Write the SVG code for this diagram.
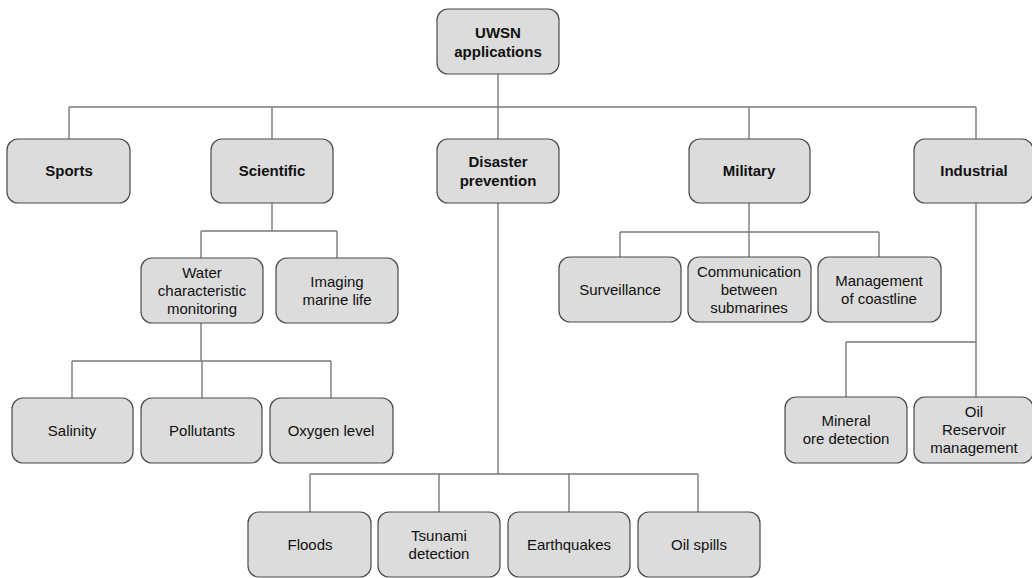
<svg xmlns="http://www.w3.org/2000/svg" width="1032" height="578" viewBox="0 0 1032 578">
<style>
.b{fill:#dcdcdc;stroke:#4a4a4a;stroke-width:1.2}
.t{font-family:"Liberation Sans",Arial,sans-serif;font-size:15px;fill:#111;text-anchor:middle}
.h{font-weight:bold}
.c{fill:none;stroke:#7a7a7a;stroke-width:1.4}
</style>
<rect width="1032" height="578" fill="#fff"/>
<g id="connectors">
<path class="c" d="M498 74V107M69 107H976M69 107V139M272 107V139M498 107V139M749 107V139M976 107V139"/>
<path class="c" d="M272 203V231M201 231H337M201 231V258M337 231V258"/>
<path class="c" d="M201 323V361M72 361H331M72 361V398M202 361V398M331 361V398"/>
<path class="c" d="M749 203V232M620 232H879M620 232V257M749 232V257M879 232V257"/>
<path class="c" d="M976 203V397M846 342H976M846 342V397"/>
<path class="c" d="M498 203V474M310 474H698M310 474V512M439 474V512M569 474V512M698 474V512"/>
</g>
<g id="n-root"><rect class="b" x="437" y="9" width="122" height="65" rx="11"/><text class="t h" x="498" y="38">UWSN</text><text class="t h" x="498" y="57">applications</text></g>
<g id="n-sports"><rect class="b" x="7" y="139" width="123" height="64" rx="11"/><text class="t h" x="69" y="176">Sports</text></g>
<g id="n-scientific"><rect class="b" x="211" y="139" width="122" height="64" rx="11"/><text class="t h" x="272" y="176">Scientific</text></g>
<g id="n-disaster"><rect class="b" x="437" y="139" width="122" height="64" rx="11"/><text class="t h" x="498" y="167">Disaster</text><text class="t h" x="498" y="186">prevention</text></g>
<g id="n-military"><rect class="b" x="689" y="139" width="121" height="64" rx="11"/><text class="t h" x="749" y="176">Military</text></g>
<g id="n-industrial"><rect class="b" x="914" y="139" width="119" height="64" rx="11"/><text class="t h" x="974" y="176">Industrial</text></g>
<g id="n-water"><rect class="b" x="141" y="258" width="122" height="65" rx="11"/><text class="t" x="202" y="278">Water</text><text class="t" x="202" y="296">characteristic</text><text class="t" x="202" y="314">monitoring</text></g>
<g id="n-imaging"><rect class="b" x="276" y="258" width="122" height="65" rx="11"/><text class="t" x="337" y="287">Imaging</text><text class="t" x="337" y="305">marine life</text></g>
<g id="n-salinity"><rect class="b" x="12" y="398" width="121" height="65" rx="11"/><text class="t" x="72" y="436">Salinity</text></g>
<g id="n-pollutants"><rect class="b" x="141" y="398" width="121" height="65" rx="11"/><text class="t" x="202" y="436">Pollutants</text></g>
<g id="n-oxygen"><rect class="b" x="270" y="398" width="123" height="65" rx="11"/><text class="t" x="331" y="436">Oxygen level</text></g>
<g id="n-surveillance"><rect class="b" x="559" y="257" width="122" height="65" rx="11"/><text class="t" x="620" y="295">Surveillance</text></g>
<g id="n-communication"><rect class="b" x="688" y="257" width="123" height="65" rx="11"/><text class="t" x="749" y="277">Communication</text><text class="t" x="749" y="295">between</text><text class="t" x="749" y="313">submarines</text></g>
<g id="n-coastline"><rect class="b" x="818" y="257" width="123" height="65" rx="11"/><text class="t" x="879" y="286">Management</text><text class="t" x="879" y="304">of coastline</text></g>
<g id="n-mineral"><rect class="b" x="785" y="397" width="122" height="66" rx="11"/><text class="t" x="846" y="426">Mineral</text><text class="t" x="846" y="444">ore detection</text></g>
<g id="n-oil-reservoir"><rect class="b" x="914" y="397" width="119" height="66" rx="11"/><text class="t" x="974" y="417">Oil</text><text class="t" x="974" y="435">Reservoir</text><text class="t" x="974" y="453">management</text></g>
<g id="n-floods"><rect class="b" x="248" y="512" width="123" height="65" rx="11"/><text class="t" x="310" y="550">Floods</text></g>
<g id="n-tsunami"><rect class="b" x="378" y="512" width="122" height="65" rx="11"/><text class="t" x="439" y="541">Tsunami</text><text class="t" x="439" y="559">detection</text></g>
<g id="n-earthquakes"><rect class="b" x="508" y="512" width="122" height="65" rx="11"/><text class="t" x="569" y="550">Earthquakes</text></g>
<g id="n-oilspills"><rect class="b" x="638" y="512" width="122" height="65" rx="11"/><text class="t" x="699" y="550">Oil spills</text></g>
</svg>
